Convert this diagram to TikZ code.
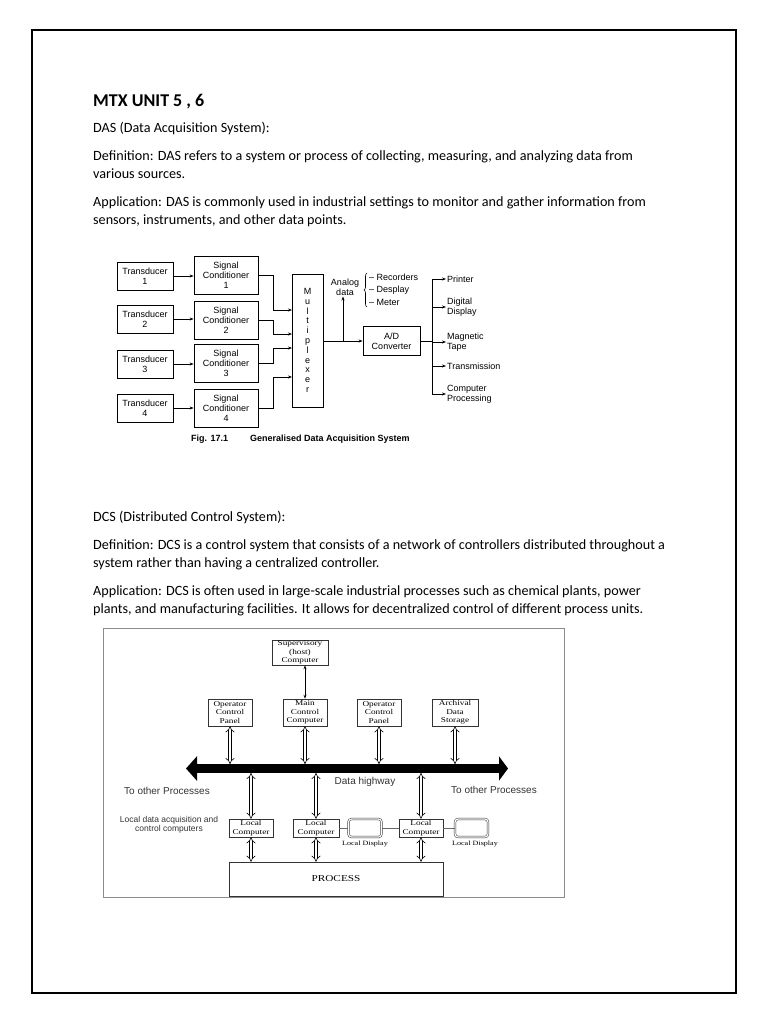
\documentclass[tikz,border=0pt]{standalone}
\usepackage{fontspec}
\setmainfont{Carlito}
\newfontfamily\dasfont{Liberation Sans}
\newfontfamily\dcsfont[FakeStretch=1.25]{Liberation Serif}
\usetikzlibrary{arrows.meta,positioning,decorations.pathreplacing}

\tikzset{
  para/.style={anchor=base west, inner sep=0pt, font=\fontsize{14.15}{17.5}\selectfont},
  dasbox/.style={draw, line width=0.8pt, align=center, inner sep=0pt, font=\dasfont\fontsize{9}{10}\selectfont},
  daslabel/.style={align=left, inner sep=1pt, font=\dasfont\fontsize{9}{10}\selectfont},
  dasarrow/.style={-{Stealth[length=4pt,width=3pt]}, line width=0.7pt},
  dcsbox/.style={draw=black!80, line width=0.6pt, align=center, inner sep=0pt, font=\dcsfont\fontsize{7.4}{8.6}\selectfont},
  dcslabel/.style={align=center, inner sep=0pt, text=black!80, font=\dasfont\fontsize{10}{9.5}\selectfont},
  hollow/.style={double=white, double distance=2.6pt, line width=0.6pt, {Implies[scale=1.6]}-{Implies[scale=1.6]}},
  screen/.style={draw=black!80, double, double distance=1.2pt, line width=0.5pt, rounded corners=3pt, minimum width=33pt, minimum height=18pt},
}

\begin{document}
\begin{tikzpicture}[x=1pt,y=-1pt]
\useasboundingbox (0,0) rectangle (768,1024);
\draw[line width=2pt] (32,30) rectangle (736,993);

% text of the page
\node[para, font=\bfseries\fontsize{18}{20}\selectfont] (title) at (93,107) {MTX UNIT 5 , 6};
\node[para] (dashead) at (93,133) {DAS (Data Acquisition System):};
\node[para] (dasdef1) at (93,161) {Definition: DAS refers to a system or process of collecting, measuring, and analyzing data from};
\node[para] (dasdef2) at (93,179) {various sources.};
\node[para] (dasapp1) at (93,207) {Application: DAS is commonly used in industrial settings to monitor and gather information from};
\node[para] (dasapp2) at (93,225) {sensors, instruments, and other data points.};
\node[para] (dcshead) at (93,521) {DCS (Distributed Control System):};
\node[para] (dcsdef1) at (93,549) {Definition: DCS is a control system that consists of a network of controllers distributed throughout a};
\node[para] (dcsdef2) at (93,567) {system rather than having a centralized controller.};
\node[para] (dcsapp1) at (93,595) {Application: DCS is often used in large-scale industrial processes such as chemical plants, power};
\node[para] (dcsapp2) at (93,613) {plants, and manufacturing facilities. It allows for decentralized control of different process units.};

% generalised data acquisition system
\node[dasbox, minimum width=56pt, minimum height=28pt] (t1) at (145,276) {Transducer\\1};
\node[dasbox, minimum width=56pt, minimum height=28pt] (t2) at (145,319) {Transducer\\2};
\node[dasbox, minimum width=56pt, minimum height=28pt] (t3) at (145,364) {Transducer\\3};
\node[dasbox, minimum width=56pt, minimum height=28pt] (t4) at (145,408) {Transducer\\4};
\node[dasbox, minimum width=64pt, minimum height=38pt] (s1) at (226,275) {Signal\\Conditioner\\1};
\node[dasbox, minimum width=64pt, minimum height=38pt] (s2) at (226,320) {Signal\\Conditioner\\2};
\node[dasbox, minimum width=64pt, minimum height=38pt] (s3) at (226,363) {Signal\\Conditioner\\3};
\node[dasbox, minimum width=64pt, minimum height=38pt] (s4) at (226,408) {Signal\\Conditioner\\4};
\node[dasbox, minimum width=31pt, minimum height=133pt, font=\dasfont\fontsize{9}{9.8}\selectfont] (mux) at (307.5,340.5)
  {M\\u\\l\\t\\i\\p\\l\\e\\x\\e\\r};
\node[dasbox, minimum width=57pt, minimum height=29pt] (adc) at (391.5,341) {A/D\\Converter};
\node[daslabel, align=center] (analog) at (345,287) {Analog\\data};
\draw[line width=0.6pt, decorate, decoration={brace, amplitude=3pt}] (367,307) -- (367,273);
\node[daslabel, anchor=west] (rec) at (368,277) {– Recorders};
\node[daslabel, anchor=west] (dsp) at (368,290) {– Desplay};
\node[daslabel, anchor=west] (met) at (368,302) {– Meter};
\node[daslabel, anchor=west] (prn) at (446,279) {Printer};
\node[daslabel, anchor=west] (dig) at (446,307) {Digital\\Display};
\node[daslabel, anchor=west] (mag) at (446,342) {Magnetic\\Tape};
\node[daslabel, anchor=west] (trn) at (446,366) {Transmission};
\node[daslabel, anchor=west] (cpu) at (446,394) {Computer\\Processing};
\node[anchor=base west, inner sep=0pt, font=\dasfont\bfseries\fontsize{9}{10}\selectfont] (fig) at (191,441) {Fig. 17.1};
\node[anchor=base west, inner sep=0pt, font=\dasfont\bfseries\fontsize{9}{10}\selectfont] (cap) at (250,441) {Generalised Data Acquisition System};

\coordinate (jx) at (273,0);
\coordinate (m1) at (292,310);
\coordinate (m2) at (292,334);
\coordinate (m3) at (292,348);
\coordinate (m4) at (292,377);
\coordinate (br) at (343,341);
\coordinate (busT) at (432,279);
\coordinate (busB) at (432,394);
\foreach \i in {1,2,3,4} {
  \draw[dasarrow] (t\i.east) -- (s\i.west |- t\i.east);
  \draw[dasarrow] (s\i.east) -- (s\i.east -| jx) |- (m\i);
}
\draw[dasarrow] (adc.west -| mux.east) -- (adc.west);
\draw[dasarrow] (br) -- (br |- analog.south);
\draw[line width=0.7pt] (adc.east) -- (adc.east -| busT);
\draw[line width=0.7pt] (busT) -- (busB);
\foreach \o in {prn,dig,mag,trn,cpu}
  \draw[dasarrow] (\o.west -| busT) -- (\o.west);

% distributed control system
\draw[black!45, line width=0.8pt] (103,628) rectangle (564,897);
\node[dcsbox, minimum width=56pt, minimum height=25pt] (sup) at (300,652.5) {Supervisory\\(host)\\Computer};
\node[dcsbox, minimum width=44pt, minimum height=27pt] (ocp1) at (230,712.5) {Operator\\Control\\Panel};
\node[dcsbox, minimum width=44pt, minimum height=27pt] (mcc) at (305,712.5) {Main\\Control\\Computer};
\node[dcsbox, minimum width=44pt, minimum height=27pt] (ocp2) at (379,712.5) {Operator\\Control\\Panel};
\node[dcsbox, minimum width=46pt, minimum height=27pt] (ads) at (455,712.5) {Archival\\Data\\Storage};
\node[dcsbox, minimum width=44pt, minimum height=18pt] (lc1) at (251,828) {Local\\Computer};
\node[dcsbox, minimum width=46pt, minimum height=18pt] (lc2) at (316,828) {Local\\Computer};
\node[dcsbox, minimum width=44pt, minimum height=18pt] (lc3) at (421,828) {Local\\Computer};
\node[screen] (d1) at (365,828) {};
\node[screen] (d2) at (471.5,828) {};
\node[dcsbox, minimum width=214pt, minimum height=34pt, font=\dcsfont\fontsize{9}{10}\selectfont] (proc) at (336,879) {PROCESS};
\node[inner sep=0pt, font=\dcsfont\fontsize{6.5}{7}\selectfont] (ld1) at (365,844) {Local Display};
\node[inner sep=0pt, font=\dcsfont\fontsize{6.5}{7}\selectfont] (ld2) at (475,844) {Local Display};
\node[dcslabel] (hwy) at (365,782) {Data highway};
\node[dcslabel] (othL) at (167,791) {To other Processes};
\node[dcslabel] (othR) at (494,790) {To other Processes};
\node[dcslabel, font=\dasfont\fontsize{8.5}{9.5}\selectfont] (ldac) at (169,825) {Local data acquisition and\\control computers};

\coordinate (hwL) at (186,768.5);
\coordinate (hwR) at (508,768.5);
\coordinate (hwT) at (0,764);
\coordinate (hwB) at (0,773);
\draw[line width=8.5pt, {Triangle[length=11pt,width=24pt]}-{Triangle[length=9pt,width=24pt]}] (hwL) -- (hwR);
\draw[line width=0.7pt, {Stealth[length=4pt,width=3pt]}-{Stealth[length=4pt,width=3pt]}] (mcc.north) -- (mcc.north |- sup.south);
\foreach \b in {ocp1,mcc,ocp2,ads}
  \draw[hollow] (\b.south) -- (\b.south |- hwT);
\foreach \b in {lc1,lc2,lc3} {
  \draw[hollow] (\b.north |- hwB) -- (\b.north);
  \draw[hollow] (\b.south) -- (\b.south |- proc.north);
}
\draw[black!60, line width=0.5pt] (lc2.east) -- (d1.west);
\draw[black!60, line width=0.5pt] (d1.east) -- (lc3.west);
\draw[black!60, line width=0.5pt] (lc3.east) -- (d2.west);
\end{tikzpicture}
\end{document}
